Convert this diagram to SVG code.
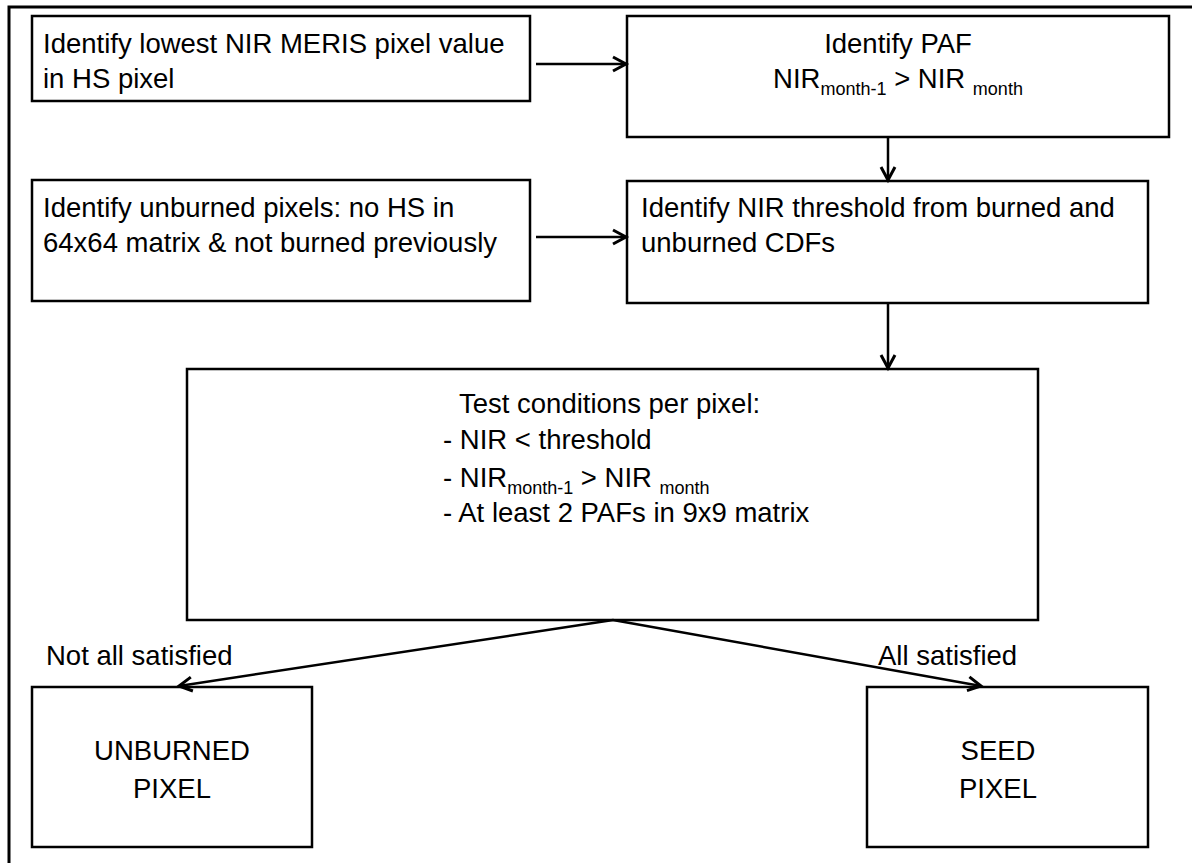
<svg xmlns="http://www.w3.org/2000/svg" width="1192" height="863" viewBox="0 0 1192 863">
  <defs>
    <style>
      .frame { fill: none; stroke: #000; stroke-width: 3; }
      .box { fill: #fff; stroke: #000; stroke-width: 2.5; }
      .t { font-family: "Liberation Sans", Arial, sans-serif; font-size: 27.5px; fill: #000; }
      .c { text-anchor: middle; }
      .sub { font-size: 18px; }
      .link { fill: none; stroke: #000; stroke-width: 2.5; marker-end: url(#arrow); }
    </style>
    <marker id="arrow" markerUnits="userSpaceOnUse" markerWidth="24" markerHeight="24" viewBox="-18 -12 24 24" refX="0" refY="0" orient="auto">
      <path d="M-13,-7 L0,0 L-13,7" fill="none" stroke="#000" stroke-width="3"/>
    </marker>
  </defs>

  <rect width="1192" height="863" fill="#fff"/>

  <!-- outer frame (runs off the right and bottom edges) -->
  <path class="frame" d="M9,880 L9,7 L1200,7"/>

  <g id="node-lowest-nir">
    <rect class="box" x="32" y="16" width="498" height="85"/>
    <text class="t" x="43" y="53">Identify lowest NIR MERIS pixel value</text>
    <text class="t" x="43" y="88">in HS pixel</text>
  </g>

  <g id="node-paf">
    <rect class="box" x="627" y="16" width="542" height="121"/>
    <text class="t c" x="898" y="53">Identify PAF</text>
    <text class="t c" x="898" y="88">NIR<tspan class="sub" dy="7">month-1</tspan><tspan dy="-7"> &gt; NIR </tspan><tspan class="sub" dy="7">month</tspan></text>
  </g>

  <g id="node-unburned-pixels">
    <rect class="box" x="32" y="180" width="498" height="121"/>
    <text class="t" x="43" y="217">Identify unburned pixels: no HS in</text>
    <text class="t" x="43" y="252">64x64 matrix &amp; not burned previously</text>
  </g>

  <g id="node-threshold">
    <rect class="box" x="627" y="181" width="521" height="122"/>
    <text class="t" x="641" y="217">Identify NIR threshold from burned and</text>
    <text class="t" x="641" y="252">unburned CDFs</text>
  </g>

  <g id="node-test">
    <rect class="box" x="187" y="369" width="851" height="251"/>
    <text class="t" x="459" y="413">Test conditions per pixel:</text>
    <text class="t" x="443" y="449">- NIR &lt; threshold</text>
    <text class="t" x="443" y="487">- NIR<tspan class="sub" dy="7">month-1</tspan><tspan dy="-7"> &gt; NIR </tspan><tspan class="sub" dy="7">month</tspan></text>
    <text class="t" x="443" y="522">- At least 2 PAFs in 9x9 matrix</text>
  </g>

  <g id="node-unburned">
    <rect class="box" x="32" y="687" width="280" height="160"/>
    <text class="t c" x="172" y="760">UNBURNED</text>
    <text class="t c" x="172" y="798">PIXEL</text>
  </g>

  <g id="node-seed">
    <rect class="box" x="867" y="687" width="281" height="160"/>
    <text class="t c" x="998" y="760">SEED</text>
    <text class="t c" x="998" y="798">PIXEL</text>
  </g>

  <g id="connectors">
    <line class="link" x1="536" y1="64" x2="626" y2="64"/>
    <line class="link" x1="888" y1="138" x2="888" y2="180"/>
    <line class="link" x1="536" y1="237" x2="626" y2="237"/>
    <line class="link" x1="888" y1="304" x2="888" y2="368"/>
    <line class="link" x1="613" y1="620" x2="179" y2="686"/>
    <line class="link" x1="613" y1="620" x2="981" y2="686"/>
  </g>

  <g id="edge-labels">
    <text class="t" x="46" y="665">Not all satisfied</text>
    <text class="t" x="878" y="665">All satisfied</text>
  </g>
</svg>
